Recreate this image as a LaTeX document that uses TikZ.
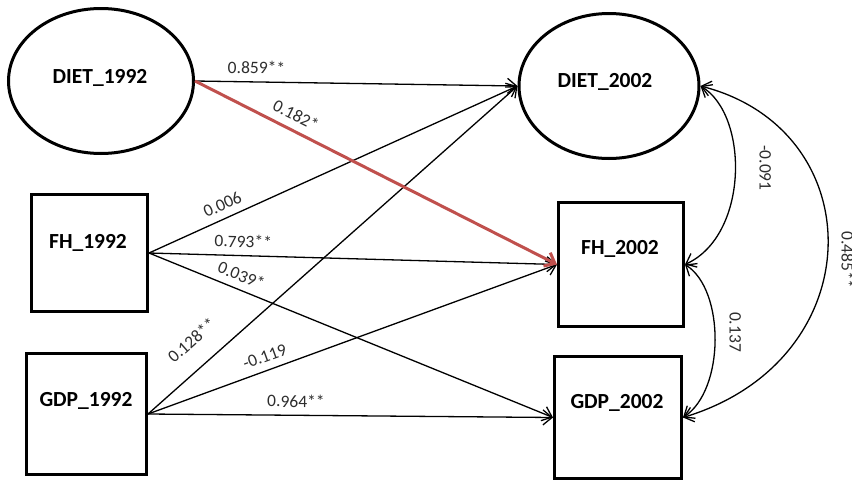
\documentclass[tikz,border=0pt]{standalone}
\usepackage{fontspec}
\setmainfont{Carlito}
\usetikzlibrary{arrows.meta,shapes.geometric}
\definecolor{pathred}{RGB}{192,80,77}
\definecolor{coefgray}{RGB}{45,45,45}
\begin{document}
\begin{tikzpicture}[x=1pt,y=-1pt,
  latent/.style={draw, ellipse, line width=3pt, inner sep=0pt},
  observed/.style={draw, rectangle, line width=3pt, inner sep=0pt},
  varname/.style={font=\bfseries\fontsize{21.5}{24}\selectfont, inner sep=0pt,
    text height=13.8pt, text depth=0pt},
  coef/.style={font=\fontsize{17.5}{20}\selectfont, inner sep=0pt,
    text height=11pt, text depth=0pt, text=coefgray},
  elbl/.style={coef, sloped, above=7.5pt},
  barb/.tip={Straight Barb[length=9pt,width=15pt]},
  regpath/.style={line width=1.3pt, -barb},
  corr/.style={line width=1.3pt, barb-barb},
]
\useasboundingbox (0,0) rectangle (852,482);

% latent and observed variables
\node[latent, minimum width=185pt, minimum height=145pt] (d92) at (101,81) {};
\node[latent, minimum width=180pt, minimum height=145pt] (d02) at (609,86) {};
\node[observed, minimum width=116pt, minimum height=117pt] (f92) at (89.5,253) {};
\node[observed, minimum width=120pt, minimum height=121pt] (g92) at (86.5,414) {};
\node[observed, minimum width=125pt, minimum height=124pt] (f02) at (621,264.5) {};
\node[observed, minimum width=127pt, minimum height=122pt] (g02) at (618,417.5) {};

% variable names
\node[varname] (n-d92) at (100,77) {DIET\_1992};
\node[varname] (n-d02) at (605,81) {DIET\_2002};
\node[varname] (n-f92) at (88,242) {FH\_1992};
\node[varname] (n-g92) at (86,400) {GDP\_1992};
\node[varname] (n-f02) at (620,248) {FH\_2002};
\node[varname] (n-g02) at (617,402) {GDP\_2002};

% regression paths
\draw[regpath] (d92.east) -- node[elbl, pos=0.19] (p859) {0.859**} (d02.west);
\draw[regpath] (f92.east) -- node[elbl, pos=0.215] (p006) {0.006} (d02.west);
\draw[regpath] (f92.east) -- node[elbl, pos=0.23] (p793) {0.793**} (f02.west);
\draw[regpath] (f92.east) -- node[elbl, pos=0.2156] (p039) {0.039*} (g02.west);
\draw[regpath] (g92.east) -- node[elbl, pos=0.165, above=12pt] (p128) {0.128**} (d02.west);
\draw[regpath] (g92.east) -- node[elbl, pos=0.297] (p119) {-0.119} (f02.west);
\draw[regpath] (g92.east) -- node[elbl, pos=0.365] (p964) {0.964**} (g02.west);
\draw[regpath, draw=pathred, line width=3pt] (d92.east) -- node[elbl, pos=0.26] (p182) {0.182*} (f02.west);

% residual correlations
\draw[corr] (d02.east) .. controls (749,115) and (749,235) .. (f02.east);
\draw[corr] (f02.east) .. controls (725,290) and (725,390) .. (g02.east);
\draw[corr] (d02.east) .. controls (873,130) and (873,360) .. (g02.east);
\node[coef, rotate=-90] (c091) at (765,168) {-0.091};
\node[coef, rotate=-90] (c137) at (735,332) {0.137};
\node[coef, rotate=-90] (c485) at (847,260) {0.485**};
\end{tikzpicture}
\end{document}
